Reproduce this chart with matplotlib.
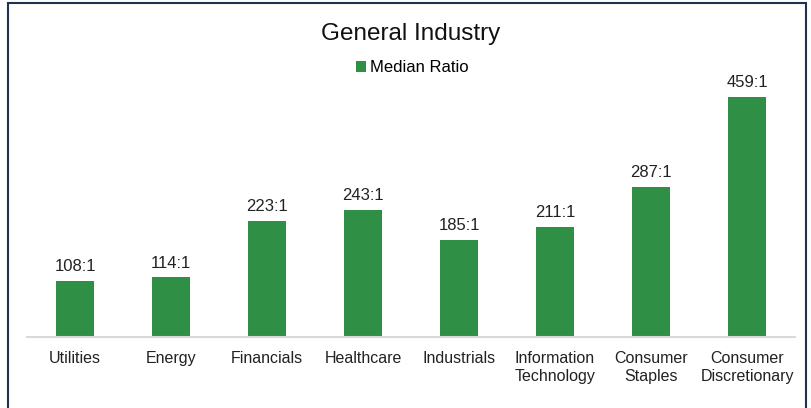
import matplotlib.pyplot as plt
from matplotlib.patches import Rectangle

plt.rcParams['font.family'] = ['Liberation Sans', 'DejaVu Sans']

sectors = ['Utilities', 'Energy', 'Financials', 'Healthcare', 'Industrials',
           'Information\nTechnology', 'Consumer\nStaples', 'Consumer\nDiscretionary']
median_ratio = [108, 114, 223, 243, 185, 211, 287, 459]
labels = ['108:1', '114:1', '223:1', '243:1', '185:1', '211:1', '287:1', '459:1']

verde = '#2E8F45'

fig = plt.figure(figsize=(8.11, 4.08), dpi=100)
ax = fig.add_axes([27 / 811, 0.174, 768 / 811, 0.640])

x = range(len(sectors))
barras = ax.bar(x, median_ratio, width=0.40, color=verde, label='Median Ratio')
for b, txt in zip(barras, labels):
    ax.annotate(txt, (b.get_x() + b.get_width() / 2, b.get_height()),
                xytext=(0, 5), textcoords='offset points',
                ha='center', va='bottom', fontsize=12, color='#222222')

ax.set_ylim(0, 500)
ax.set_xlim(-0.5, len(sectors) - 0.5)
ax.set_yticks([])
ax.set_xticks(list(x))
ax.set_xticklabels(sectors, fontsize=11.5, color='#222222', linespacing=1.3)
ax.tick_params(axis='x', length=0, pad=10)
for s in ['top', 'right', 'left']:
    ax.spines[s].set_visible(False)
ax.spines['bottom'].set_color('#D9D9D9')
ax.spines['bottom'].set_linewidth(1.5)

fig.text(0.506, 0.917, 'General Industry', ha='center', va='center',
         fontsize=17.5, color='#111111')
fig.legend(loc='center', bbox_to_anchor=(0.508, 0.834), frameon=False,
           fontsize=12, handlelength=0.6, handleheight=0.6, handletextpad=0.25)

# marco exterior
fig.patches.append(Rectangle((8 / 811, -0.01), 798 / 811, 1 - 3 / 408 + 0.01,
                             transform=fig.transFigure, fill=False,
                             edgecolor='#1F3350', linewidth=1.5))

fig.savefig('out.png', dpi=100)
